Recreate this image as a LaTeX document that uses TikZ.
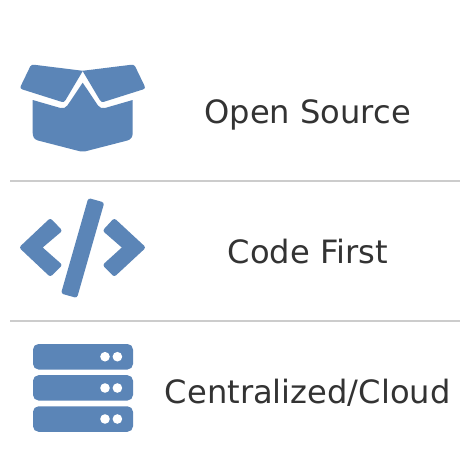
\documentclass[tikz,border=0pt]{standalone}
\usepackage{fontspec}
\setmainfont{DejaVu Sans}
\definecolor{iconblue}{HTML}{5B85B7}
\definecolor{rulegray}{HTML}{CCCCCC}
\definecolor{labelgray}{HTML}{333333}
\tikzset{
  iconshape/.style={fill=iconblue,draw=none},
  rulerline/.style={draw=rulegray,line width=1.5*0.75pt},
  label/.style={text=labelgray,font=\fontsize{24.1}{28}\selectfont,anchor=base,inner sep=0pt},
  serverbar/.style={fill=iconblue,draw=none,rounded corners=5.5*0.75pt},
  led/.style={fill=white,draw=none},
  flap/.pic={
    \fill[iconshape] (34.5,64.8) -- (82.9,70.8) -- (65.6,100) .. controls (64.4,102) and (63.2,102.4) .. (61.5,101.8) -- (22.3,89.4) .. controls (20.5,88.8) and (20,87.7) .. (20.8,86) -- (30.2,66.5) .. controls (31,65) and (32.7,64.5) .. (34.5,64.8) -- cycle;
  }
}
\begin{document}
\begin{tikzpicture}[x=0.75pt,y=-0.75pt]
\useasboundingbox (0,0) rectangle (470,476);
\fill[white] (0,0) rectangle (470,476);
% open box
\pic at (0,0) {flap};
\pic[xscale=-1] at (165.4,0) {flap};
\fill[iconshape] (32.7,100) -- (32.7,133) .. controls (32.7,137) and (34.5,139.5) .. (38,140.5) -- (80,151.3) .. controls (82,151.8) and (83.4,151.8) .. (85.4,151.3) -- (127.4,140.5) .. controls (130.9,139.5) and (132.7,137) .. (132.7,133) -- (132.7,100) -- (105,108) .. controls (102,108.7) and (100,108) .. (98,105.5) -- (82.7,82.7) -- (67.4,105.5) .. controls (65.4,108) and (63.4,108.7) .. (60.4,108) -- cycle;
% code
\fill[iconshape,rounded corners=2.5*0.75pt] (19,247.5) -- (50.3,218) -- (62.5,230.7) [sharp corners] -- (42.7,247.5) [rounded corners=2.5*0.75pt] -- (62.5,265) -- (50.3,277) -- cycle;
\fill[iconshape,rounded corners=2.5*0.75pt] (146,247.5) -- (114.2,218) -- (102.5,230.7) [sharp corners] -- (121.8,247.5) [rounded corners=2.5*0.75pt] -- (102.5,265) -- (114.2,277) -- cycle;
\fill[iconshape,rounded corners=2.5*0.75pt] (88.3,198) -- (104.3,202.5) -- (77,298) -- (61,293.5) -- cycle;
% servers
\fill[serverbar] (33,344) rectangle (133,369.5);
\fill[serverbar] (33,375.2) rectangle (133,400.5);
\fill[serverbar] (33,406.3) rectangle (133,431.8);
\foreach \cy in {356.7,388,419}{
  \fill[led] (105,\cy) circle (4.8);
  \fill[led] (117.4,\cy) circle (4.8);
}
% separators
\coordinate (r1a) at (10,181); \coordinate (r1b) at (460,181);
\coordinate (r2a) at (10,321); \coordinate (r2b) at (460,321);
\draw[rulerline] (r1a) -- (r1b);
\draw[rulerline] (r2a) -- (r2b);
% labels
\node[label] (open) at (307.7,123) {Open Source};
\node[label] (code) at (307.7,263) {Code First};
\node[label] (cloud) at (307.7,403) {Centralized/Cloud};
\end{tikzpicture}
\end{document}
